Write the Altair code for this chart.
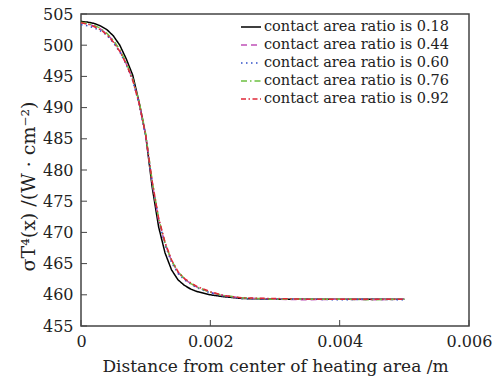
import altair as alt
import pandas as pd

# distance from center of heating area (m)
dist = [0.0, 0.0001, 0.0002, 0.0003, 0.0004, 0.0005, 0.0006, 0.0007, 0.0008, 0.0009,
        0.0010, 0.0011, 0.0012, 0.0013, 0.0014, 0.0015, 0.0016, 0.0017, 0.0018, 0.0020,
        0.0022, 0.0025, 0.0030, 0.0035, 0.0040, 0.0045, 0.0050]

series_names = [
    "contact area ratio is 0.18",
    "contact area ratio is 0.44",
    "contact area ratio is 0.60",
    "contact area ratio is 0.76",
    "contact area ratio is 0.92",
]

r018 = [503.8, 503.7, 503.5, 503.1, 502.5, 501.5, 500.0, 497.8, 495.2, 490.8,
        485.6, 477.3, 470.9, 466.7, 464.0, 462.4, 461.5, 460.9, 460.5, 460.0,
        459.7, 459.4, 459.3, 459.3, 459.3, 459.3, 459.3]
r044 = [503.6, 503.4, 503.1, 502.6, 501.8, 500.7, 499.1, 497.0, 494.5, 490.7,
        485.6, 478.0, 472.0, 468.2, 465.4, 463.6, 462.5, 461.8, 461.2, 460.4,
        459.9, 459.5, 459.3, 459.2, 459.3, 459.2, 459.3]
r060 = [503.3, 503.1, 502.8, 502.3, 501.6, 500.4, 498.9, 496.9, 494.3, 490.5,
        485.5, 478.1, 472.1, 468.0, 465.2, 463.4, 462.4, 461.7, 461.1, 460.3,
        459.8, 459.4, 459.3, 459.3, 459.2, 459.3, 459.2]
r076 = [503.7, 503.5, 503.2, 502.7, 501.9, 500.8, 499.3, 497.2, 494.6, 490.9,
        485.8, 478.3, 472.2, 468.3, 465.5, 463.7, 462.6, 461.8, 461.2, 460.4,
        459.9, 459.5, 459.3, 459.3, 459.3, 459.2, 459.3]
r092 = [503.6, 503.4, 503.0, 502.5, 501.7, 500.5, 499.0, 497.0, 494.4, 490.6,
        485.6, 478.2, 472.3, 468.4, 465.6, 463.7, 462.6, 461.9, 461.3, 460.5,
        459.9, 459.5, 459.4, 459.3, 459.3, 459.3, 459.3]

colors = ["#000000", "#c050b8", "#3050c8", "#6cc040", "#e02838"]
dashes = [[1, 0], [6, 4], [1.5, 3.5], [6, 3, 1.5, 3], [5, 2.5, 1.5, 2.5]]

x_ticks = [0, 0.002, 0.004, 0.006]
y_ticks = [455, 460, 465, 470, 475, 480, 485, 490, 495, 500, 505]

rows = []
for name, vals in zip(series_names, [r018, r044, r060, r076, r092]):
    for d, v in zip(dist, vals):
        rows.append({"d": d, "v": v, "s": name})
df = pd.DataFrame(rows)

FONT = "DejaVu Serif"
x_scale = alt.Scale(domain=[0, 0.006], nice=False)
y_scale = alt.Scale(domain=[455, 505], nice=False, zero=False)

x_axis = alt.Axis(values=x_ticks, title="Distance from center of heating area /m",
                  labelExpr="datum.value == 0 ? '0' : format(datum.value, '.3f')",
                  ticks=False, domain=False, grid=False, labelPadding=7,
                  titlePadding=9, labelFlush=False, labelOverlap=False)
y_axis = alt.Axis(values=y_ticks, title="σT⁴(x)  /(W · cm⁻²)",
                  ticks=False, domain=False, grid=False, labelPadding=8,
                  titlePadding=4, labelFlush=False, labelOverlap=False,
                  titleFontSize=19, titleY=172)

lines = alt.Chart(df).mark_line(strokeWidth=1.5, clip=True).encode(
    x=alt.X("d:Q", scale=x_scale, axis=x_axis),
    y=alt.Y("v:Q", scale=y_scale, axis=y_axis),
    color=alt.Color("s:N", scale=alt.Scale(domain=series_names, range=colors),
                    legend=alt.Legend(title=None)),
    strokeDash=alt.StrokeDash("s:N", scale=alt.Scale(domain=series_names, range=dashes),
                              legend=alt.Legend(title=None)),
)

ytick_df = pd.DataFrame({"v": y_ticks})
xtick_df = pd.DataFrame({"d": x_ticks})

yticks = alt.Chart(ytick_df).mark_rule(color="#444", strokeWidth=1).encode(
    y=alt.Y("v:Q", scale=y_scale, axis=y_axis), x=alt.value(0), x2=alt.value(6))
xticks = alt.Chart(xtick_df).mark_rule(color="#444", strokeWidth=1).encode(
    x=alt.X("d:Q", scale=x_scale, axis=x_axis), y=alt.value(312), y2=alt.value(306))

chart = alt.layer(lines, yticks, xticks).properties(
    width=388, height=312,
    autosize=alt.AutoSizeParams(type="none"),
    padding={"left": 81, "top": 14, "right": 31, "bottom": 53},
    background="white",
).configure_view(
    stroke="#444", strokeWidth=1.5
).configure_axis(
    labelFont=FONT, labelFontSize=16, labelColor="#222",
    titleFont=FONT, titleFontSize=17, titleColor="#222", titleFontWeight="normal",
).configure_legend(
    orient="none", legendX=159, legendY=2, padding=0,
    labelFont=FONT, labelFontSize=14.5, labelColor="#222",
    symbolType="stroke", symbolSize=400, symbolStrokeWidth=1.5,
    labelOffset=2, rowPadding=0, labelLimit=300,
)

chart.save("out.html", embed_options={"renderer": "svg", "actions": False})
